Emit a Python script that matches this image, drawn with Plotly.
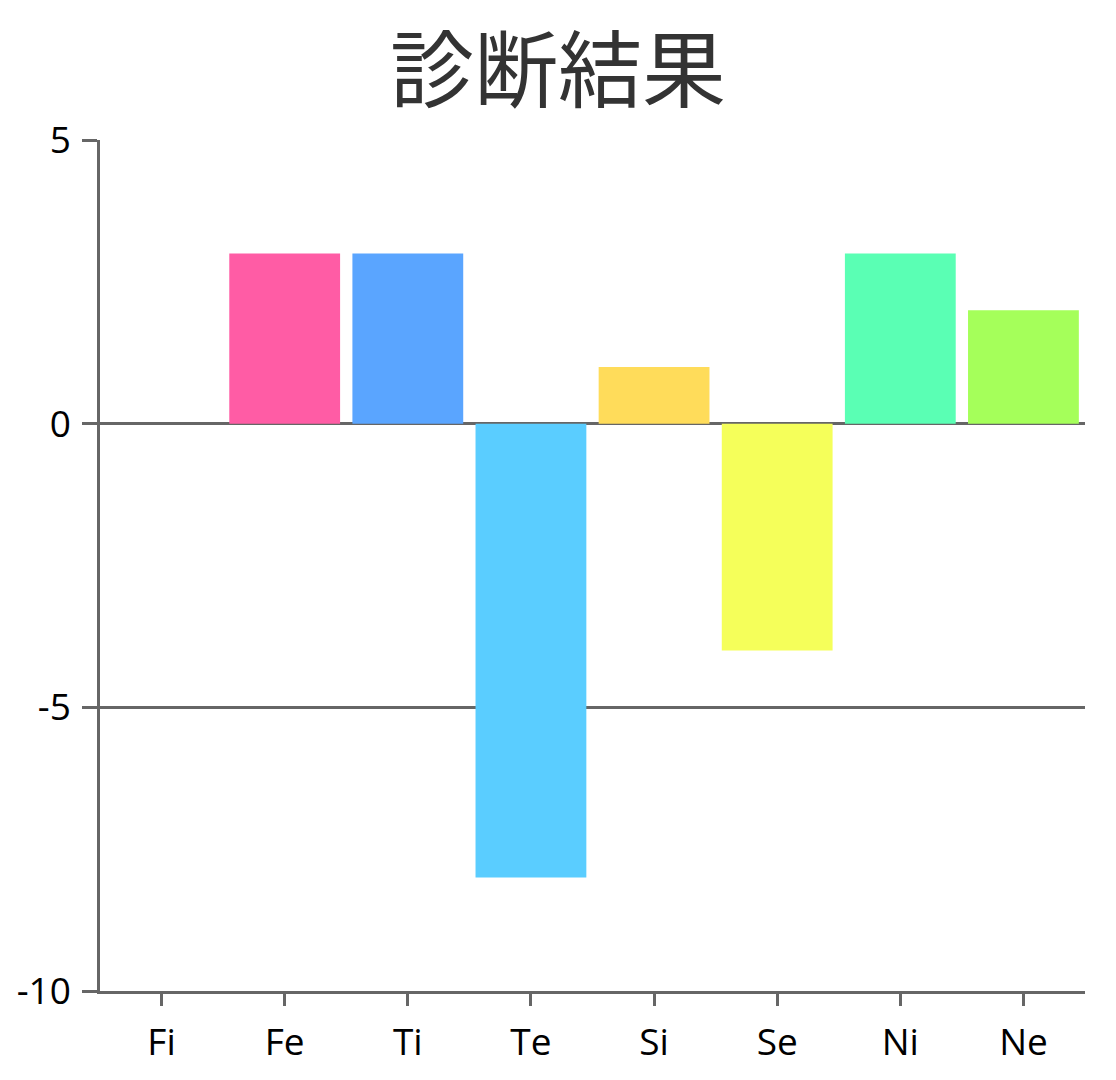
import plotly.graph_objects as go

categories = ["Fi", "Fe", "Ti", "Te", "Si", "Se", "Ni", "Ne"]
values = [0, 3, 3, -8, 1, -4, 3, 2]
colors = ["#FF5A5A", "#FF5CA5", "#5AA5FF", "#5ACDFF", "#FFDC5A", "#F5FF5A", "#5AFFB4", "#A5FF5A"]
y_ticks = [5, 0, -5, -10]
y_tick_labels = ["5", "0", "-5", "-10"]

W, H = 1108, 1072  # page body has an 8px margin

fig = go.Figure(go.Bar(x=categories, y=values, marker=dict(color=colors, line=dict(width=0))))

fig.update_layout(
    width=W, height=H,
    paper_bgcolor="white", plot_bgcolor="white",
    margin=dict(l=92, r=31, t=132, b=89, autoexpand=False),
    bargap=0.1,
    showlegend=False,
    title=dict(text="診断結果", x=550 / W, xanchor="center", xref="container",
               y=1 - 64 / H, yanchor="middle", yref="container",
               font=dict(family="Noto Sans CJK JP", size=84, color="#333333")),
    font=dict(family="Open Sans", size=37, color="black"),
)
fig.update_xaxes(showline=True, linecolor="#666666", linewidth=2.5, ticks="outside",
                 ticklen=12, tickwidth=2.5, tickcolor="#666666", showgrid=False,
                 automargin=False, ticklabelstandoff=5, tickfont=dict(size=37, color="black"))
fig.update_yaxes(range=[-10, 5], tickvals=y_ticks, ticktext=y_tick_labels, showline=True,
                 linecolor="#666666", linewidth=2.5, ticks="outside", ticklen=15,
                 tickwidth=2.5, tickcolor="#666666",
                 showgrid=True, gridcolor="#666666", gridwidth=2.5, zeroline=True,
                 zerolinecolor="#666666", zerolinewidth=2.5, ticklabelstandoff=4,
                 automargin=False, tickfont=dict(size=37, color="black"))

fig.write_html("out.html")
